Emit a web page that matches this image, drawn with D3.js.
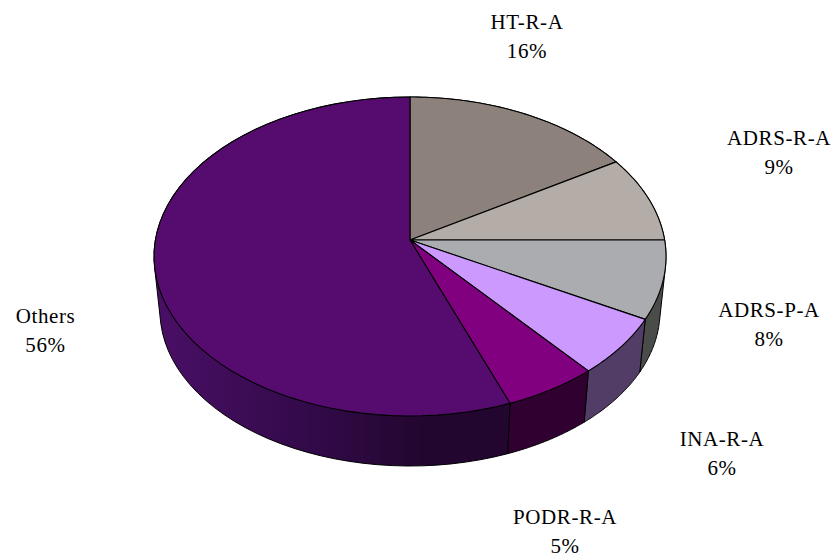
<!DOCTYPE html>
<html>
<head>
<meta charset="utf-8">
<script src="https://cdn.jsdelivr.net/npm/d3@7"></script>
<style>
  html, body { margin: 0; padding: 0; background: #fff; }
  svg { display: block; }
  text { font-family: "Liberation Serif", serif; font-size: 21px; letter-spacing: 0.6px; fill: #000; text-anchor: middle; }
</style>
</head>
<body>
<div id="chart"></div>
<script>
// data, clockwise from 12 o'clock
const categories = ["HT-R-A", "ADRS-R-A", "ADRS-P-A", "INA-R-A", "PODR-R-A", "Others"];
const shares = [16.3, 8.7, 7.9, 5.9, 5.4, 55.8];
const percentLabels = ["16%", "9%", "8%", "6%", "5%", "56%"];

const topColors = ["#8c827b", "#b4aca6", "#abacb0", "#cc99ff", "#800080", "#560c6e"];
const sideColors = ["#46413e", "#5a5653", "#4a4c4a", "#523d66", "#300030", "url(#othersSide)"];
const labelPos = [[527, 29], [779, 145], [769, 317], [722, 446], [565, 524], [45.5, 323]];

const width = 832, height = 558;

// the pie is seen in perspective: apex sits above the centre of the rim ellipse
const apex = { x: 410, y: 240 };
const rim = { cx: 410, cy: 256.5, rx: 256, ry: 159.5 };
const base = { cx: 410, cy: 311, rx: 250, ry: 155 };

const svg = d3.select("#chart").append("svg")
  .attr("width", width)
  .attr("height", height);

const grad = svg.append("defs").append("linearGradient")
  .attr("id", "othersSide")
  .attr("gradientUnits", "userSpaceOnUse")
  .attr("x1", 155).attr("x2", 510).attr("y1", 0).attr("y2", 0);
grad.append("stop").attr("offset", "0%").attr("stop-color", "#4a0f66");
grad.append("stop").attr("offset", "42%").attr("stop-color", "#330a4a");
grad.append("stop").attr("offset", "75%").attr("stop-color", "#230630");
grad.append("stop").attr("offset", "100%").attr("stop-color", "#220630");

const pie = d3.pie().sort(null).value((d) => d);
const arcs = pie(shares);

// *Where a pie angle hits the rim, as a parameter on the ellipse
function rimParam(a) {
  const k = rim.ry / rim.rx;
  const dx = Math.sin(a), dy = -Math.cos(a) * k;
  const ox = (apex.x - rim.cx) / rim.rx, oy = (apex.y - rim.cy) / rim.ry;
  const ux = dx / rim.rx, uy = dy / rim.ry;
  const A = ux * ux + uy * uy, B = 2 * (ox * ux + oy * uy), C = ox * ox + oy * oy - 1;
  const t = (-B + Math.sqrt(B * B - 4 * A * C)) / (2 * A);
  const px = apex.x + dx * t, py = apex.y + dy * t;
  return Math.atan2((px - rim.cx) / rim.rx, -(py - rim.cy) / rim.ry);
}

function onEllipse(e, th) {
  return [e.cx + e.rx * Math.sin(th), e.cy - e.ry * Math.cos(th)];
}

function paramRange(d) {
  let t0 = rimParam(d.startAngle), t1 = rimParam(d.endAngle);
  if (t0 < 0) t0 += 2 * Math.PI;
  if (t1 <= t0) t1 += 2 * Math.PI;
  return d3.range(0, 61).map((i) => t0 + ((t1 - t0) * i) / 60);
}

const line = d3.line();

// *Side walls first, the top face covers whatever is behind it
// hull of both arcs so the wall leaves the rim on a tangent
svg.append("g").selectAll("path")
  .data(arcs)
  .join("path")
  .attr("d", (d) => {
    const ts = paramRange(d);
    const pts = ts.map((t) => onEllipse(rim, t)).concat(ts.map((t) => onEllipse(base, t)));
    return line(d3.polygonHull(pts)) + "Z";
  })
  .attr("fill", (d, i) => sideColors[i])
  .attr("stroke", "#000")
  .attr("stroke-width", 1)
  .attr("stroke-linejoin", "round");

// *Top face
svg.append("g").selectAll("path")
  .data(arcs)
  .join("path")
  .attr("d", (d) => line([[apex.x, apex.y]].concat(paramRange(d).map((t) => onEllipse(rim, t)))) + "Z")
  .attr("fill", (d, i) => topColors[i])
  .attr("stroke", "#000")
  .attr("stroke-width", 1.1)
  .attr("stroke-linejoin", "round");

// *Labels
const labels = svg.append("g").selectAll("text")
  .data(categories)
  .join("text")
  .attr("transform", (d, i) => `translate(${labelPos[i][0]},${labelPos[i][1]})`);

labels.append("tspan").attr("x", 0).attr("y", 0).text((d) => d);
labels.append("tspan").attr("x", 0).attr("y", 29).text((d, i) => percentLabels[i]);
</script>
</body>
</html>
